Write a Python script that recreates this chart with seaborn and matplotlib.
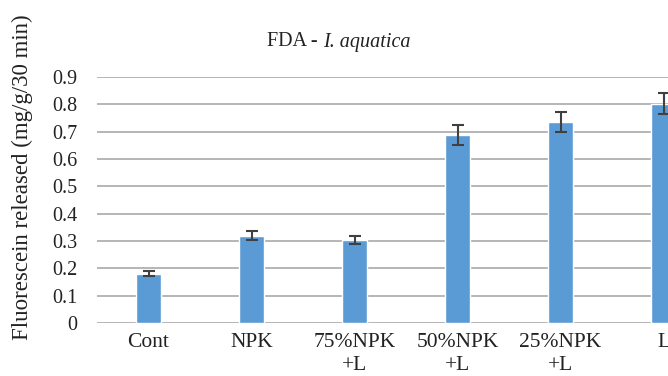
import matplotlib
matplotlib.use('Agg')
import matplotlib.pyplot as plt
import pandas as pd
import numpy as np
import seaborn as sns

# Datos
tratamientos = ['Cont', 'NPK', '75%NPK\n+L', '50%NPK\n+L', '25%NPK\n+L', 'L']
fluoresceina = [0.18, 0.32, 0.305, 0.688, 0.735, 0.803]
error_std = [0.009, 0.016, 0.015, 0.035, 0.037, 0.040]

df = pd.DataFrame({'Tratamiento': tratamientos, 'FDA': fluoresceina})

sns.set_style('white')
plt.rcParams['font.family'] = ['Liberation Serif', 'DejaVu Serif']

fig = plt.figure(figsize=(6.68, 3.76), dpi=100)
# el grafico original esta recortado a la derecha
ax = fig.add_axes([97 / 668, 1 - 323 / 376, 618 / 668, (323 - 77) / 376])

sns.barplot(x='Tratamiento', y='FDA', data=df, color='#5B9BD5', saturation=1,
            width=0.24, ax=ax, zorder=3)
ax.errorbar(np.arange(len(tratamientos)), fluoresceina, yerr=error_std, fmt='none',
            ecolor='#404040', elinewidth=1.5, capsize=4, capthick=1.5, zorder=4)

ax.set_xlim(-0.5, len(tratamientos) - 0.5)
ax.set_ylim(0, 0.9)
ax.set_yticks(np.arange(0, 0.91, 0.1))
ax.set_yticklabels(['0'] + [f'{v:.1f}' for v in np.arange(0.1, 0.91, 0.1)])
ax.yaxis.grid(True, color='#b0b0b0', linewidth=1.3, zorder=0)
ax.set_axisbelow(True)
for s in ax.spines.values():
    s.set_visible(False)
ax.tick_params(axis='both', length=0, colors='#222222')
ax.tick_params(axis='y', pad=14, labelsize=14.5)
ax.tick_params(axis='x', pad=7, labelsize=15.5)
for t in ax.get_xticklabels():
    t.set_linespacing(1.3)
ax.set_xlabel('')
ax.set_ylabel('')

fig.text(22 / 668, 0.53, 'Fluorescein released (mg/g/30 min)', rotation=90,
         ha='center', va='center', fontsize=16.5, color='#222222')
fig.text(323 / 668, 1 - 42 / 376, 'FDA - ', ha='right', va='center',
         fontsize=14.5, color='#222222')
fig.text(323 / 668, 1 - 42 / 376, 'I. aquatica', ha='left', va='center',
         fontsize=14.5, style='italic', color='#222222')

fig.savefig('out.png', dpi=100)
